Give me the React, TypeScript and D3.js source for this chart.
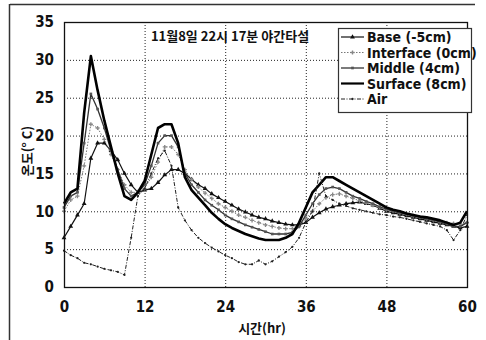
import { useEffect, useRef } from 'react';
import * as d3 from 'd3';

// hourly readings, 0..60 hr
const hours = d3.range(0, 61);

const baseTemp = [
  6.5, 8, 9.5, 11, 17, 19, 19, 18, 16.8, 15, 13.5, 12.5, 12.8, 13, 13.8, 14.8, 15.5, 15.5, 15, 14.2,
  13.5, 13, 12.3, 11.8, 11.3, 10.8, 10.3, 9.9, 9.5, 9.2, 9, 8.7, 8.5, 8.3, 8.2, 8.2, 8.5, 9.2, 9.8, 10.3,
  10.6, 10.8, 11, 11.1, 11.2, 11, 10.8, 10.4, 10, 9.8, 9.6, 9.4, 9.2, 9, 8.8, 8.6, 8.4, 8.2, 8, 7.8, 8,
];
const interfaceTemp = [
  10, 11.5, 12, 16, 21.5, 21, 19.5, 17.5, 15.5, 13.5, 12.5, 12.5, 13, 14.5, 16.5, 18.5, 18.5, 17.5, 15.5, 14.2,
  13.2, 12.4, 11.7, 11, 10.5, 10, 9.5, 9.2, 8.8, 8.5, 8.2, 8, 7.8, 7.7, 7.7, 8, 9, 10, 11, 11.8,
  12.2, 12.3, 12, 11.7, 11.4, 11.1, 10.8, 10.5, 10.2, 10, 9.8, 9.6, 9.4, 9.2, 9, 8.8, 8.6, 8.5, 8.4, 8.3, 8.5,
];
const middleTemp = [
  10.5, 12, 12.5, 19, 25.5, 23.5, 21, 18, 15.5, 13, 12, 12.5, 13.5, 16, 19, 20, 20, 18.5, 15, 13.5,
  12.5, 11.5, 10.8, 10.2, 9.5, 9, 8.6, 8.2, 7.9, 7.6, 7.3, 7, 7, 7, 7.2, 8, 9.5, 11, 12.2, 13,
  13.2, 13, 12.5, 12, 11.7, 11.3, 11, 10.6, 10.3, 10, 9.8, 9.6, 9.4, 9.2, 9, 8.8, 8.6, 8.3, 8, 8, 8.5,
];
const surfaceTemp = [
  11, 12.5, 13, 23, 30.5, 26, 22, 18.5, 15, 12, 11.5, 12.5, 14, 17.5, 21, 21.5, 21.5, 19, 14.5, 12.8,
  11.8, 10.8, 9.8, 9, 8.3, 7.8, 7.4, 7, 6.7, 6.4, 6.2, 6.2, 6.2, 6.5, 7, 8.5, 10.5, 12.5, 13.5, 14.5,
  14.5, 14, 13.5, 13, 12.5, 12, 11.5, 11, 10.5, 10.2, 10, 9.7, 9.5, 9.3, 9.2, 9, 8.8, 8.5, 8.2, 8.5, 10,
];
const airTemp = [
  4.8, 4.2, 3.8, 3.2, 3, 2.7, 2.4, 2.2, 2, 1.6, 6.5, 12, 13, 15, 17, 18, 16, 10.5, 8.8, 7.5,
  6.5, 5.8, 5.2, 4.7, 4.2, 3.8, 3.3, 3, 3, 3.5, 3, 3.4, 4, 4.6, 5.3, 6.5, 8.5, 10, 15, 12,
  11.5, 11, 10.7, 10.4, 10.2, 10, 9.8, 9.6, 9.5, 9.3, 9.2, 9, 8.8, 8.6, 8.4, 8.2, 8, 7.5, 6.2, 7.5, 9.5,
];

const seriesNames = ['Base (-5cm)', 'Interface (0cm)', 'Middle (4cm)', 'Surface (8cm)', 'Air'];
const xTicks = [0, 12, 24, 36, 48, 60];
const yTicks = [0, 5, 10, 15, 20, 25, 30, 35];

const title = '11월8일 22시 17분 야간타설';
const xTitle = '시간(hr)';
const yTitle = '온도(° C)';

const W = 486;
const H = 340;
const numFont = '"Liberation Sans Narrow", "DejaVu Sans Condensed", "Noto Sans CJK KR", sans-serif';
const korFont = '"Noto Sans CJK KR", "DejaVu Sans Condensed", sans-serif';

const styles = [
  { color: '#111', width: 1.2, dash: null, symbol: d3.symbolTriangle, size: 10, mfill: '#111' },
  { color: '#777', width: 1, dash: '1.5,1.5', symbol: d3.symbolCross, size: 9, mfill: '#888' },
  { color: '#333', width: 1.3, dash: null, symbol: d3.symbolSquare, size: 7, mfill: '#555' },
  { color: '#000', width: 2.6, dash: null, symbol: null, size: 0, mfill: '#000' },
  { color: '#222', width: 1, dash: '4,1.5,1,1.5', symbol: d3.symbolCircle, size: 4, mfill: '#222' },
];

const App = () => {
  const svgRef = useRef<SVGSVGElement>(null);

  useEffect(() => {
    if (!svgRef.current) return;
    const svg = d3.select(svgRef.current);
    svg.selectAll('*').remove();

    const margin = { top: 22, right: 19, bottom: 53, left: 64 };
    const innerW = W - margin.left - margin.right;
    const innerH = H - margin.top - margin.bottom;

    const x = d3.scaleLinear().domain([0, 60]).range([0, innerW]);
    const y = d3.scaleLinear().domain([0, 35]).range([innerH, 0]);

    svg.append('rect').attr('width', W).attr('height', H).attr('fill', '#fff');

    // scanned outer frame (top and left only)
    svg.append('line').attr('x1', 10).attr('x2', 475).attr('y1', 4.5).attr('y2', 4.5)
      .attr('stroke', '#333').attr('stroke-width', 1.5);
    svg.append('line').attr('x1', 9.5).attr('x2', 9.5).attr('y1', 4).attr('y2', H)
      .attr('stroke', '#333').attr('stroke-width', 1.5);

    const g = svg.append('g').attr('transform', `translate(${margin.left},${margin.top})`);

    // dotted grid
    g.selectAll('line.hgrid')
      .data(yTicks.filter(d => d > 0 && d < 35))
      .enter()
      .append('line')
      .attr('x1', 0).attr('x2', innerW)
      .attr('y1', d => y(d) + 0.5).attr('y2', d => y(d) + 0.5)
      .attr('stroke', '#222').attr('stroke-width', 1).attr('stroke-dasharray', '1,2');
    g.selectAll('line.vgrid')
      .data(xTicks.filter(d => d > 0 && d < 60))
      .enter()
      .append('line')
      .attr('x1', d => x(d) + 0.5).attr('x2', d => x(d) + 0.5)
      .attr('y1', 0).attr('y2', innerH)
      .attr('stroke', '#222').attr('stroke-width', 1).attr('stroke-dasharray', '1,2');

    // series
    const allSeries = [baseTemp, interfaceTemp, middleTemp, surfaceTemp, airTemp];
    const line = d3.line<number>().x((_, i) => x(hours[i])).y(d => y(d));

    allSeries.forEach((vals, k) => {
      const s = styles[k];
      g.append('path')
        .datum(vals)
        .attr('d', line)
        .attr('fill', 'none')
        .attr('stroke', s.color)
        .attr('stroke-width', s.width)
        .attr('stroke-dasharray', s.dash)
        .attr('stroke-linejoin', 'round');
      if (s.symbol) {
        g.selectAll(`path.m${k}`)
          .data(vals)
          .enter()
          .append('path')
          .attr('d', d3.symbol().type(s.symbol).size(s.size)())
          .attr('transform', (d, i) => `translate(${x(hours[i])},${y(d)})`)
          .attr('fill', s.mfill);
      }
    });

    // plot frame
    g.append('rect').attr('x', 0.5).attr('y', 0.5).attr('width', innerW).attr('height', innerH)
      .attr('fill', 'none').attr('stroke', '#111').attr('stroke-width', 1.3);

    // axes
    const xAxis = g.append('g')
      .attr('transform', `translate(0,${innerH})`)
      .call(d3.axisBottom(x).tickValues(xTicks).tickSize(0).tickPadding(14));
    xAxis.select('.domain').remove();
    xAxis.selectAll('text')
      .attr('font-family', numFont).attr('font-size', 15).attr('font-weight', 'bold').attr('fill', '#111');

    const yAxis = g.append('g')
      .call(d3.axisLeft(y).tickValues(yTicks).tickSize(0).tickPadding(10));
    yAxis.select('.domain').remove();
    yAxis.selectAll('text')
      .attr('font-family', numFont).attr('font-size', 15).attr('font-weight', 'bold').attr('fill', '#111');

    // titles
    svg.append('text')
      .attr('x', 230).attr('y', 41)
      .attr('text-anchor', 'middle')
      .attr('font-family', korFont).attr('font-size', 13).attr('font-weight', 'bold')
      .attr('fill', '#111')
      .text(title);
    svg.append('text')
      .attr('x', 262).attr('y', 333)
      .attr('text-anchor', 'middle')
      .attr('font-family', korFont).attr('font-size', 13).attr('font-weight', 'bold')
      .attr('fill', '#111')
      .text(xTitle);
    svg.append('text')
      .attr('transform', 'translate(32,151) rotate(-90)')
      .attr('text-anchor', 'middle')
      .attr('font-family', korFont).attr('font-size', 13).attr('font-weight', 'bold')
      .attr('fill', '#111')
      .text(yTitle);

    // legend
    const lg = svg.append('g').attr('transform', 'translate(338,28)');
    lg.append('rect').attr('x', 0.5).attr('y', 0.5).attr('width', 133).attr('height', 84)
      .attr('fill', '#fff').attr('stroke', '#333').attr('stroke-width', 1.2);
    seriesNames.forEach((name, k) => {
      const s = styles[k];
      const ly = 9 + k * 15.5;
      lg.append('line').attr('x1', 3).attr('x2', 26).attr('y1', ly).attr('y2', ly)
        .attr('stroke', s.color).attr('stroke-width', Math.min(s.width, 2.2))
        .attr('stroke-dasharray', s.dash);
      if (s.symbol) {
        lg.append('path')
          .attr('d', d3.symbol().type(s.symbol).size(s.size)())
          .attr('transform', `translate(14.5,${ly})`)
          .attr('fill', s.mfill);
      }
      lg.append('text')
        .attr('x', 29).attr('y', ly + 5)
        .attr('font-family', numFont).attr('font-size', 14).attr('font-weight', 'bold')
        .attr('fill', '#111')
        .text(name);
    });
  }, []);

  return (
    <div style={{ position: 'absolute', left: 0, top: 0 }}>
      <svg ref={svgRef} width={W} height={H} style={{ display: 'block' }} />
    </div>
  );
};

export default App;
